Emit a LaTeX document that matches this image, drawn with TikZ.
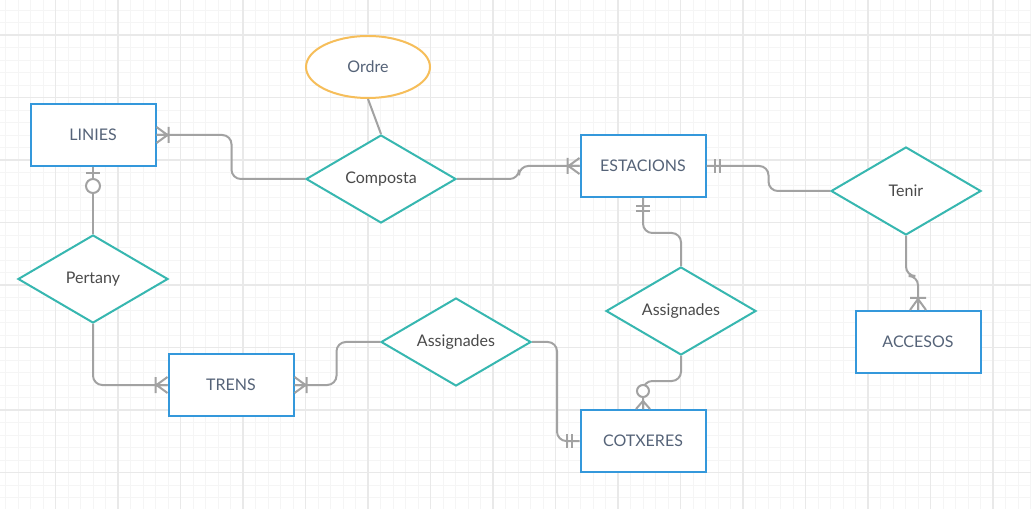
\documentclass[tikz,border=0pt]{standalone}
\usepackage{fontspec}
\setmainfont{Lato}
\usepackage{tikz}
\usetikzlibrary{shapes.geometric}

\definecolor{entblue}{RGB}{52,152,219}
\definecolor{relteal}{RGB}{55,183,176}
\definecolor{attorange}{RGB}{246,190,90}
\definecolor{linkgray}{RGB}{162,162,162}
\definecolor{enttext}{RGB}{85,99,120}
\definecolor{reltext}{RGB}{74,74,74}
\definecolor{gridminor}{RGB}{245,245,245}
\definecolor{gridmajor}{RGB}{233,233,233}

\begin{document}
\begin{tikzpicture}[x=0.75pt, y=-0.75pt,
  entity/.style = {draw=entblue, line width=1.5pt, fill=white, text=enttext,
    minimum width=93.75pt, minimum height=46.5pt, font=\fontsize{12}{14}\selectfont},
  relation/.style = {diamond, aspect=1.7, draw=relteal, line width=1.5pt, fill=white,
    text=reltext, inner sep=0pt, minimum width=112.5pt, minimum height=66pt,
    font=\fontsize{12}{14}\selectfont},
  attribute/.style = {ellipse, draw=attorange, line width=1.5pt, fill=white,
    text=enttext, minimum width=93pt, minimum height=46.5pt,
    font=\fontsize{12}{14}\selectfont},
  link/.style = {draw=linkgray, line width=1.5pt, rounded corners=7pt},
  tickline/.style = {draw=linkgray, line width=1.5pt},
  manyone/.pic = {\draw[tickline] (0,8) -- (11,0) -- (0,-8) (0,0) -- (11,0) (12,8) -- (12,-8);},
  onlyone/.pic = {\draw[tickline] (8,7) -- (8,-7) (13,7) -- (13,-7);},
  zeroone/.pic = {\draw[tickline] (6,7) -- (6,-7); \draw[tickline, fill=white] (19,0) circle (7);},
  zeromany/.pic = {\draw[tickline] (0,7) -- (8,0) -- (0,-7) (0,0) -- (8,0);
    \draw[tickline, fill=white] (18,0) circle (6);}]

\useasboundingbox (0,0) rectangle (1031,509);
\fill[white] (0,0) rectangle (1031,509);
\foreach \x in {5.5,18,...,1031} \draw[gridminor, line width=0.6pt] (\x,0) -- (\x,509);
\foreach \y in {10,22.5,...,509} \draw[gridminor, line width=0.6pt] (0,\y) -- (1031,\y);
\foreach \x in {55.5,118,...,1031} \draw[gridmajor, line width=0.9pt] (\x,0) -- (\x,509);
\foreach \y in {35,97.5,...,509} \draw[gridmajor, line width=0.9pt] (0,\y) -- (1031,\y);

\node[entity] (linies) at (93,135) {LINIES};
\node[entity] (estacions) at (643,166) {ESTACIONS};
\node[entity] (trens) at (231,385) {TRENS};
\node[entity] (cotxeres) at (643,441) {COTXERES};
\node[entity] (accesos) at (918,342) {ACCESOS};
\node[attribute] (ordre) at (368,67) {Ordre};
\node[relation] (composta) at (381,179) {Composta};
\node[relation] (tenir) at (906,191) {Tenir};
\node[relation] (pertany) at (93,279) {Pertany};
\node[relation] (assigA) at (456,342) {Assignades};
\node[relation] (assigB) at (681,311) {Assignades};

\draw[link] (ordre.south) -- (composta.north);
\draw[link] (linies.east) -- ++(75,0) |- (composta.west);
\draw[link] (composta.east) -- ++(62,0) |- (estacions.west);
\draw[link] (estacions.east) -- ++(62,0) |- (tenir.west);
\draw[link] (tenir.south) -- ++(0,40) -| (accesos.north);
\draw[link] (estacions.south) -- ++(0,35) -| (assigB.north);
\draw[link] (assigB.south) -- ++(0,25) -| (cotxeres.north);
\draw[link] (linies.south) -- (pertany.north);
\draw[link] (pertany.south) |- (trens.west);
\draw[link] (trens.east) -- ++(42,0) |- (assigA.west);
\draw[link] (assigA.east) -- ++(25,0) |- (cotxeres.west);

\pic at (linies.east) {manyone};
\pic[rotate=180] at (estacions.west) {manyone};
\pic at (estacions.east) {onlyone};
\pic[rotate=90] at (accesos.north) {manyone};
\pic[rotate=-90] at (estacions.south) {onlyone};
\pic[rotate=90] at (cotxeres.north) {zeromany};
\pic[rotate=-90] at (linies.south) {zeroone};
\pic[rotate=180] at (trens.west) {manyone};
\pic at (trens.east) {manyone};
\pic[rotate=180] at (cotxeres.west) {onlyone};
\end{tikzpicture}
\end{document}
